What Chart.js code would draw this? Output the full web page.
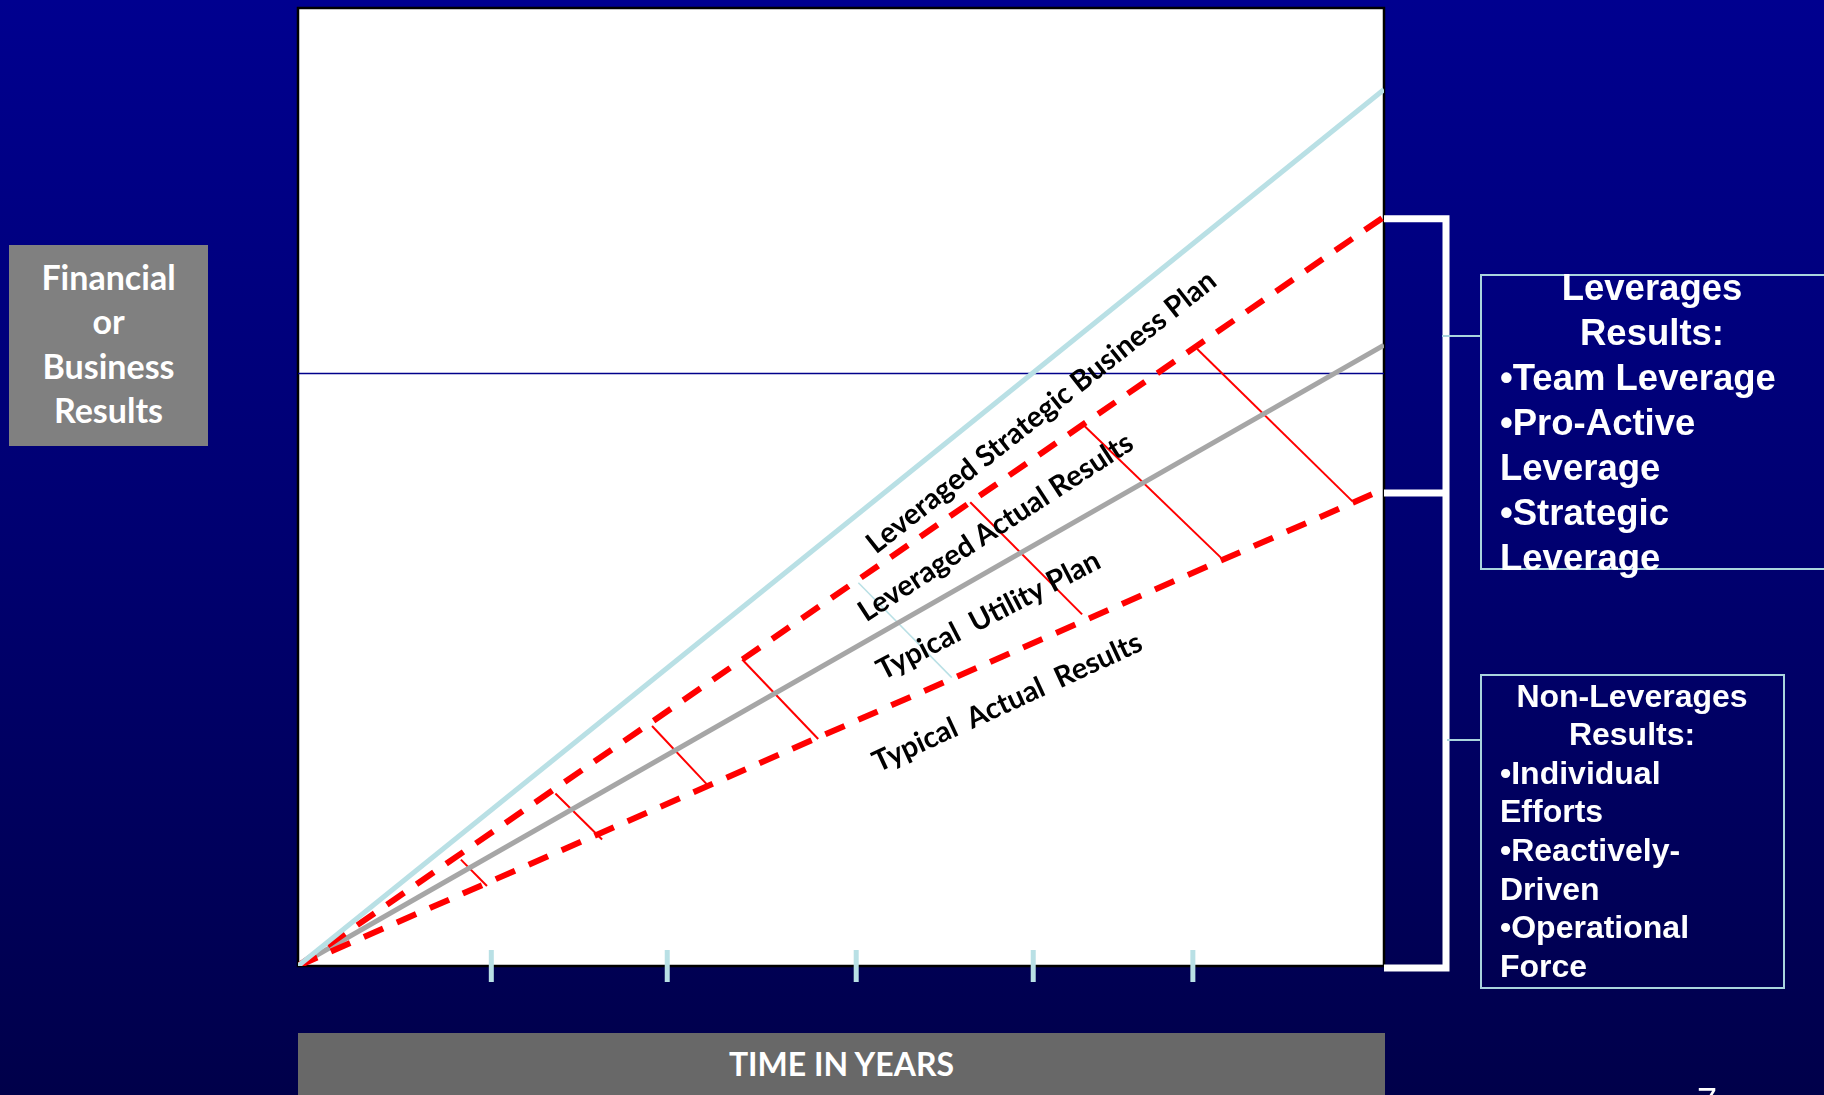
<!DOCTYPE html>
<html>
<head>
<meta charset="utf-8">
<title>Leveraged vs. Typical Results over Time</title>
<script src="https://cdn.jsdelivr.net/npm/chart.js@4/dist/chart.umd.min.js"></script>
<style>
  html, body { margin: 0; padding: 0; }
  body {
    width: 1824px; height: 1095px; overflow: hidden; position: relative;
    background: linear-gradient(to bottom, #00008f 0%, #000070 50%, #00004a 100%);
  }
  #chart { position: absolute; left: 0; top: 0; }
  .ybox {
    position: absolute; left: 9px; top: 245px; width: 199px; height: 201px;
    background: #808080; color: #fff; text-align: center; box-sizing: border-box;
    font: bold 34px Lato, "Open Sans", sans-serif; line-height: 44.3px; padding-top: 10px;
  }
  .xbar {
    position: absolute; left: 298px; top: 1033px; width: 1087px; height: 62px;
    background: #686868; color: #fff; text-align: center;
    font: bold 32px Lato, "Open Sans", sans-serif; line-height: 62px;
  }
  .frame { position: absolute; border: 2px solid #a9d4dd; box-sizing: border-box; }
  .lev-frame { left: 1480px; top: 274px; width: 360px; height: 296px; }
  .non-frame { left: 1480px; top: 674px; width: 305px; height: 315px; }
  .link { position: absolute; height: 2px; background: #a9d4dd; }
  .btext {
    position: absolute; color: #fff; white-space: nowrap;
    font-family: "Liberation Sans", Arial, sans-serif; font-weight: bold;
  }
  .btext .c { text-align: center; }
  .btext .l { text-align: left; padding-left: 18px; }
  .lev-text { left: 1482px; top: 265px; width: 340px; font-size: 36.5px; line-height: 45px; }
  .non-text { left: 1482px; top: 676.6px; width: 300px; font-size: 32px; line-height: 38.6px; }
  .page { position: absolute; left: 1697px; top: 1084px; color: #fff;
    font: 36px "Liberation Sans", Arial, sans-serif; line-height: 36px; }
  .line-label {
    position: absolute; white-space: pre; color: #000;
    font: bold 29px Lato, "Open Sans", sans-serif; line-height: 1;
    transform-origin: 50% 50%;
  }
</style>
</head>
<body>
<canvas id="chart" width="1824" height="1095"></canvas>

<div class="ybox">Financial<br>or<br>Business<br>Results</div>
<div class="xbar">TIME IN YEARS</div>

<div class="link" style="left:1442px; top:335px; width:38px;"></div>
<div class="link" style="left:1447px; top:739px; width:33px;"></div>
<div class="frame lev-frame"></div>
<div class="frame non-frame"></div>

<div class="btext lev-text">
  <div class="c">Leverages</div>
  <div class="c">Results:</div>
  <div class="l">•Team Leverage</div>
  <div class="l">•Pro-Active</div>
  <div class="l">Leverage</div>
  <div class="l">•Strategic</div>
  <div class="l">Leverage</div>
</div>

<div class="btext non-text">
  <div class="c">Non-Leverages</div>
  <div class="c">Results:</div>
  <div class="l">•Individual</div>
  <div class="l">Efforts</div>
  <div class="l">•Reactively-</div>
  <div class="l">Driven</div>
  <div class="l">•Operational</div>
  <div class="l">Force</div>
</div>

<div class="page">7</div>

<script>
// ---- data (time in years on x, results index on y) ----
const years = [0, 10];
const strategicPlan = [0, 91.5];     // Leveraged Strategic Business Plan
const leveragedActual = [0, 78.2];   // Leveraged Actual Results
const utilityPlan = [0, 64.8];       // Typical Utility Plan
const typicalActual = [0, 49.8];     // Typical Actual Results
const referenceLevel = 61.85;        // horizontal reference line
const timeTicks = [1.78, 3.40, 5.14, 6.77, 8.24];

// gap connectors: from the leveraged-actual line down to the typical-actual line
const gapTopX = [1.50, 2.37, 3.26, 4.09, 6.19, 7.23, 8.28];
const gapTopY = [11.1, 18.0, 25.05, 32.0, 48.4, 56.5, 64.4];
const gapBottomX = [1.74, 2.80, 3.77, 4.79, 7.22, 8.51, 9.71];
const gapBottomY = [8.35, 13.2, 18.9, 23.7, 36.7, 42.5, 48.5];

// single light-blue connector between the two dashed lines
const blueLinkX = [5.16, 6.02];
const blueLinkY = [40.0, 30.1];

// ---- line captions (anchored in data units) ----
const captionText = ['Leveraged Strategic Business Plan', 'Leveraged Actual Results',
                     'Typical  Utility Plan', 'Typical  Actual  Results'];
const captionAt = [{x: 6.83, y: 58.0, angle: 38.3}, {x: 6.41, y: 46.0, angle: 33.0},
                   {x: 6.35, y: 36.8, angle: 27.3}, {x: 6.52, y: 27.7, angle: 24.8}];

const RED = '#ff0000', LIGHT_BLUE = '#b9e0e5', GREY = '#a6a6a6', NAVY = '#00008b';

const pts = (xs, ys) => xs.map((x, i) => ({x, y: ys[i]}));

const datasets = [
  { data: pts(years, [referenceLevel, referenceLevel]), borderColor: NAVY, borderWidth: 1.5, order: 20 },
  { data: pts(years, utilityPlan), borderColor: GREY, borderWidth: 5, order: 6 },
  { data: pts(years, typicalActual), borderColor: RED, borderWidth: 6, borderDash: [21, 15], order: 4 },
  { data: pts(years, leveragedActual), borderColor: RED, borderWidth: 6, borderDash: [21, 15], order: 4 },
  { data: pts(years, strategicPlan), borderColor: LIGHT_BLUE, borderWidth: 5, order: 3 },
  { data: pts(blueLinkX, blueLinkY), borderColor: LIGHT_BLUE, borderWidth: 1.5, order: 9 },
  { data: timeTicks.map(x => ({x, y: 0})), showLine: false, clip: false,
    pointStyle: 'line', pointRotation: 90, pointRadius: 16,
    pointBorderWidth: 5, pointBorderColor: LIGHT_BLUE, order: 1 }
];
gapTopX.forEach((x, i) => {
  datasets.push({
    data: [{x, y: gapTopY[i]}, {x: gapBottomX[i], y: gapBottomY[i]}],
    borderColor: RED, borderWidth: 2, order: 8
  });
});
datasets.forEach(d => {
  d.type = 'line';
  d.tension = 0;
  if (d.pointStyle !== 'line') d.pointRadius = 0;
});

// white plot area with a black frame, plus the white bracket on the right
const framePlugin = {
  id: 'frame',
  beforeDatasetsDraw(chart) {
    const {ctx, chartArea: a} = chart;
    ctx.save();
    ctx.fillStyle = '#ffffff';
    ctx.fillRect(a.left, a.top, a.right - a.left, a.bottom - a.top);
    ctx.strokeStyle = '#000000';
    ctx.lineWidth = 2.5;
    ctx.strokeRect(a.left, a.top, a.right - a.left, a.bottom - a.top);
    ctx.restore();
  },
  afterDatasetsDraw(chart) {
    const {ctx, chartArea: a, scales: {y}} = chart;
    const yTop = y.getPixelForValue(leveragedActual[1]) + 2;
    const yMid = y.getPixelForValue(typicalActual[1]) + 4;
    const yBot = y.getPixelForValue(0) + 2;
    const xB = a.right + 62;
    ctx.save();
    ctx.strokeStyle = '#ffffff';
    ctx.lineWidth = 7;
    ctx.lineJoin = 'miter';
    ctx.beginPath();
    ctx.moveTo(a.right, yTop);
    ctx.lineTo(xB, yTop);
    ctx.lineTo(xB, yBot);
    ctx.lineTo(a.right, yBot);
    ctx.moveTo(a.right, yMid);
    ctx.lineTo(xB, yMid);
    ctx.stroke();
    ctx.restore();
  }
};

const chart = new Chart(document.getElementById('chart'), {
  type: 'line',
  data: { datasets },
  options: {
    responsive: false,
    animation: false,
    events: [],
    layout: { autoPadding: false, padding: { left: 298, top: 8, right: 440, bottom: 129 } },
    plugins: { legend: { display: false }, tooltip: { enabled: false } },
    scales: {
      x: { type: 'linear', min: 0, max: 10, display: false },
      y: { type: 'linear', min: 0, max: 100, display: false }
    }
  },
  plugins: [framePlugin]
});

// place the rotated captions through the chart's scales
captionText.forEach((text, i) => {
  const el = document.createElement('div');
  el.className = 'line-label';
  el.textContent = text;
  document.body.appendChild(el);
  const px = chart.scales.x.getPixelForValue(captionAt[i].x);
  const py = chart.scales.y.getPixelForValue(captionAt[i].y);
  el.style.left = (px - el.offsetWidth / 2) + 'px';
  el.style.top = (py - el.offsetHeight / 2) + 'px';
  el.style.transform = 'rotate(' + (-captionAt[i].angle) + 'deg)';
});
</script>
</body>
</html>
